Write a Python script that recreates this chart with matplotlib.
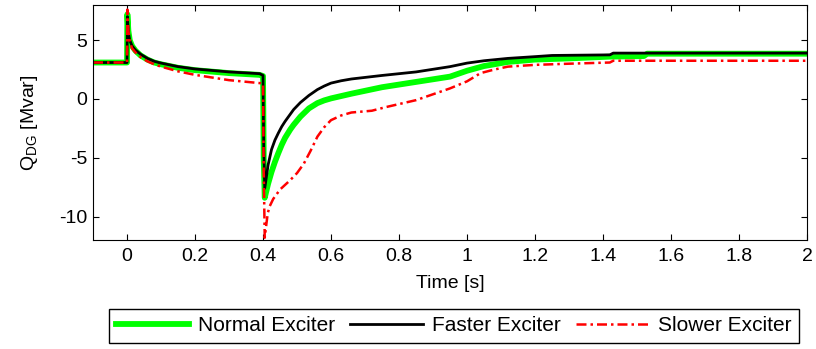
import matplotlib.pyplot as plt

plt.rcParams['font.family'] = ['Liberation Sans', 'DejaVu Sans']
plt.rcParams['mathtext.default'] = 'regular'
plt.rcParams['axes.unicode_minus'] = False
plt.rcParams['font.size'] = 14

# normal exciter (green)
normal_t = [-0.1, 0.0, 0.001, 0.004, 0.008, 0.015, 0.025, 0.04, 0.06, 0.08, 0.1, 0.15, 0.2,
            0.3, 0.39, 0.4, 0.402, 0.405, 0.415, 0.425, 0.435, 0.445, 0.455, 0.465, 0.48,
            0.49, 0.51, 0.535, 0.56, 0.58, 0.6, 0.63, 0.66, 0.75, 0.85, 0.95, 1.0, 1.05,
            1.12, 1.2, 1.3, 1.42, 1.52, 1.53, 2.0]
normal_q = [3.1, 3.1, 7.2, 5.8, 5.0, 4.5, 4.1, 3.7, 3.35, 3.1, 2.95, 2.65, 2.45,
            2.2, 2.05, 1.95, -5.0, -8.4, -7.2, -6.2, -5.35, -4.6, -3.9, -3.3, -2.6,
            -2.2, -1.5, -0.8, -0.35, -0.12, 0.05, 0.25, 0.45, 1.0, 1.45, 1.9, 2.4, 2.8,
            3.15, 3.35, 3.45, 3.6, 3.65, 3.85, 3.85]

# faster exciter (black)
faster_t = [-0.1, 0.0, 0.001, 0.004, 0.008, 0.015, 0.025, 0.04, 0.06, 0.08, 0.1, 0.15, 0.2,
            0.3, 0.39, 0.4, 0.402, 0.405, 0.415, 0.425, 0.435, 0.445, 0.455, 0.465, 0.48,
            0.49, 0.51, 0.535, 0.56, 0.58, 0.6, 0.63, 0.66, 0.75, 0.85, 0.95, 1.0, 1.05,
            1.12, 1.2, 1.25, 1.42, 1.43, 2.0]
faster_q = [3.1, 3.1, 7.0, 5.7, 5.0, 4.5, 4.15, 3.8, 3.45, 3.2, 3.05, 2.75, 2.55,
            2.3, 2.15, 2.0, -4.0, -7.6, -5.6, -4.3, -3.5, -2.9, -2.35, -1.9, -1.3,
            -0.9, -0.3, 0.3, 0.8, 1.1, 1.35, 1.55, 1.7, 2.0, 2.3, 2.75, 3.05, 3.25,
            3.45, 3.6, 3.7, 3.75, 3.9, 3.9]

# slower exciter (red)
slower_t = [-0.1, 0.0, 0.001, 0.004, 0.008, 0.015, 0.025, 0.04, 0.06, 0.08, 0.1, 0.15, 0.2,
            0.3, 0.39, 0.4, 0.402, 0.405, 0.41, 0.414, 0.42, 0.43, 0.45, 0.48, 0.5,
            0.52, 0.54, 0.56, 0.58, 0.6, 0.63, 0.66, 0.72, 0.76, 0.85, 0.95, 1.0, 1.04,
            1.08, 1.12, 1.2, 1.3, 1.42, 1.43, 2.0]
slower_q = [3.1, 3.1, 7.6, 5.8, 4.9, 4.3, 3.95, 3.55, 3.2, 2.95, 2.75, 2.35, 2.05,
            1.6, 1.35, 1.3, -6.0, -11.8, -10.6, -9.7, -9.1, -8.5, -7.7, -6.9, -6.3,
            -5.5, -4.4, -3.2, -2.4, -1.8, -1.4, -1.15, -1.0, -0.7, -0.1, 0.9, 1.5, 2.2,
            2.5, 2.75, 2.9, 3.0, 3.1, 3.25, 3.25]

fig = plt.figure(figsize=(8.16, 3.49), dpi=100)
ax = fig.add_axes([0.114, 0.312, 0.875, 0.674])

ax.plot(normal_t, normal_q, color='#00ff00', lw=4.2, label='Normal Exciter')
ax.plot(faster_t, faster_q, color='black', lw=2.0, label='Faster Exciter')
ax.plot(slower_t, slower_q, color='red', lw=1.8, ls='-.', dashes=[4, 1.6, 1, 1.6],
        label='Slower Exciter')

ax.set_xlim(-0.1, 2)
ax.set_ylim(-12, 8)
ax.set_xticks([0, 0.2, 0.4, 0.6, 0.8, 1, 1.2, 1.4, 1.6, 1.8, 2])
ax.set_xticklabels(['0', '0.2', '0.4', '0.6', '0.8', '1', '1.2', '1.4', '1.6', '1.8', '2'])
ax.set_yticks([-10, -5, 0, 5])
ax.tick_params(direction='in', top=True, right=True, length=4, labelsize=14)
ax.tick_params(axis='x', pad=6)
ax.tick_params(axis='y', pad=4)
ax.set_xlabel('Time [s]', fontsize=14, labelpad=7)
ax.set_ylabel(r'Q$_{DG}$ [Mvar]', fontsize=14, labelpad=14)

fig.legend(loc='center', bbox_to_anchor=(0.556, 0.066), ncol=3, fancybox=False,
           edgecolor='black', framealpha=1, fontsize=15, handlelength=3.5,
           columnspacing=0.7, handletextpad=0.45, borderpad=0.35)

fig.savefig('out.png', dpi=100)
